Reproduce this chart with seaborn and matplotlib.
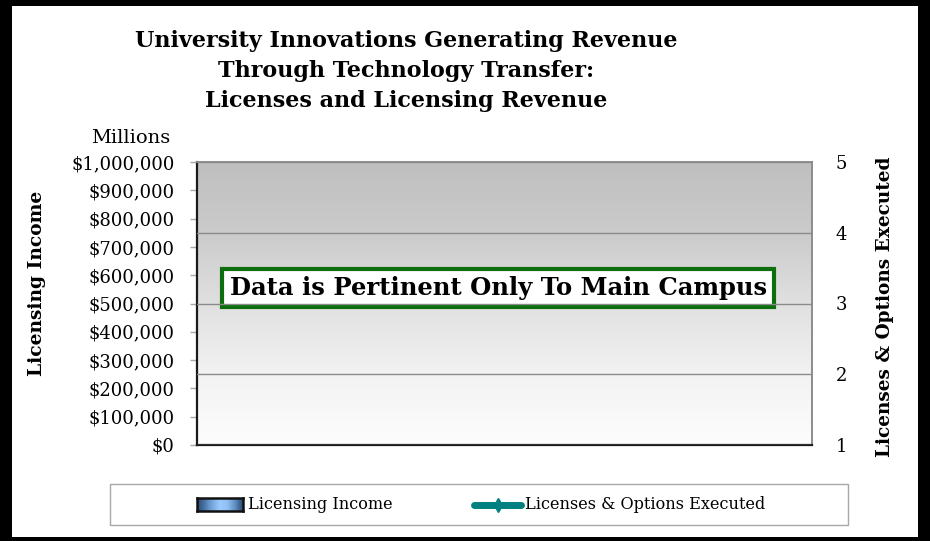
import numpy as np
import pandas as pd
import matplotlib
matplotlib.use("Agg")
import matplotlib.pyplot as plt
import seaborn as sns
from matplotlib.patches import Rectangle
from matplotlib.lines import Line2D
from matplotlib.colors import LinearSegmentedColormap

# ---- data (the reference chart contains no plotted values) ----
years = []
licensing_income = []
licenses_executed = []
left_ticks = [0, 100000, 200000, 300000, 400000, 500000, 600000, 700000, 800000, 900000, 1000000]
left_labels = ["$0", "$100,000", "$200,000", "$300,000", "$400,000", "$500,000",
               "$600,000", "$700,000", "$800,000", "$900,000", "$1,000,000"]
right_ticks = [1, 2, 3, 4, 5]
series_names = ["Licensing Income", "Licenses & Options Executed"]
title_text = ("University Innovations Generating Revenue\n"
              "Through Technology Transfer:\n"
              "Licenses and Licensing Revenue")
note_text = "Data is Pertinent Only To Main Campus"

sns.set_theme(style="white")
SERIF = ["DejaVu Serif"]
plt.rcParams["font.family"] = SERIF
plt.rcParams["text.color"] = "black"
plt.rcParams["ytick.color"] = "black"

W, H = 930, 541
fig = plt.figure(figsize=(W / 100, H / 100), dpi=100, facecolor="black")

def fx(px):
    return px / W

def fy(py):
    return 1 - py / H

# white inner panel inside thick black frame
fig.patches.append(Rectangle((fx(12), fy(537)), fx(918 - 12), (537 - 6) / H,
                             transform=fig.transFigure, facecolor="white",
                             edgecolor="none", zorder=-10))

pos = [fx(197), fy(445), fx(812 - 197), (445 - 162) / H]

# gradient background of the plot area
bg = fig.add_axes(pos, zorder=0.5)
grad = np.linspace(0, 1, 256).reshape(-1, 1)
cmap = LinearSegmentedColormap.from_list(
    "g", [(0.0, "#fdfdfd"), (0.25, "#f2f2f2"), (0.5, "#e0e0e0"),
          (0.75, "#cbcbcb"), (1.0, "#bfbfbf")])
bg.imshow(grad, aspect="auto", cmap=cmap, origin="lower", extent=[0, 1, 0, 1])
bg.set_axis_off()

ax = fig.add_axes(pos, zorder=1)
ax.set_facecolor("none")
df = pd.DataFrame({"year": pd.Series(years, dtype=str),
                   "income": pd.Series(licensing_income, dtype=float),
                   "count": pd.Series(licenses_executed, dtype=float)})
sns.barplot(data=df, x="year", y="income", ax=ax, color="#7fa8d8")
ax.set_xlim(0, 1)
ax.set_ylim(0, 1000000)
ax.set_yticks(left_ticks)
ax.set_yticklabels(left_labels, fontsize=13)
ax.set_xticks([])
ax.set_xlabel("")
ax.set_ylabel("")
ax.tick_params(axis="y", left=True, length=5, width=1, color="#a8a8a8", pad=11,
               labelcolor="black")
for name, s in ax.spines.items():
    if name in ("left", "bottom"):
        s.set_color("#1a1a1a")
        s.set_linewidth(1.6)
    else:
        s.set_color("#8c8c8c")
        s.set_linewidth(1.4)

ax2 = ax.twinx()
ax2.set_zorder(2)
sns.lineplot(data=df, x="year", y="count", ax=ax2, color="#008080")
ax2.set_ylim(1, 5)
ax2.set_yticks(right_ticks)
ax2.set_yticklabels([str(t) for t in right_ticks], fontsize=13)
ax2.tick_params(axis="y", right=False, length=0, pad=17, labelcolor="black")
ax2.set_ylabel("")
ax2.set_xlabel("")
ax2.grid(True, axis="y", color="#8a8a8a", linewidth=1)
for s in ax2.spines.values():
    s.set_visible(False)

# texts
fig.text(fx(406), fy(71), title_text, ha="center", va="center",
         fontsize=16, fontweight="bold", linespacing=1.48, color="black")
fig.text(fx(131), fy(138), "Millions", ha="center", va="center", fontsize=14,
         color="black")
fig.text(fx(37), fy(283), "Licensing Income", ha="center", va="center",
         rotation=90, fontsize=13.4, fontweight="bold", color="black")
fig.text(fx(885), fy(307), "Licenses & Options Executed", ha="center", va="center",
         rotation=90, fontsize=13.3, fontweight="bold", color="black")

ax.text(0.490, 0.555, note_text, transform=ax.transAxes, ha="center", va="center",
        fontsize=17.5, fontweight="bold", zorder=5, color="black",
        bbox=dict(boxstyle="square,pad=0.3", facecolor="white",
                  edgecolor="#0d6e0d", linewidth=3))

# legend: frame, gradient patch, line with marker, labels
fig.patches.append(Rectangle((fx(110), fy(525)), fx(738), 41 / H,
                             transform=fig.transFigure, facecolor="white",
                             edgecolor="#a8a8a8", linewidth=1, zorder=3))
pax = fig.add_axes([fx(197), fy(511), fx(46), 13 / H], zorder=4)
hvals = np.interp(np.linspace(0, 1, 64), np.linspace(0, 1, 7),
                  [0.1, 0.35, 0.7, 1.0, 0.9, 0.5, 0.1]).reshape(1, -1)
bcmap = LinearSegmentedColormap.from_list("b", ["#1e3a5f", "#5f8fc4", "#9ccaff"])
pax.imshow(hvals, aspect="auto", cmap=bcmap, vmin=0, vmax=1, extent=[0, 1, 0, 1])
pax.set_xticks([])
pax.set_yticks([])
for s in pax.spines.values():
    s.set_color("#111111")
    s.set_linewidth(1.8)

fig.lines.append(Line2D([fx(474), fx(521)], [fy(504.5), fy(504.5)],
                        transform=fig.transFigure, color="#008080", linewidth=5,
                        solid_capstyle="round", zorder=5))
fig.lines.append(Line2D([fx(497.5)], [fy(504.5)], transform=fig.transFigure,
                        marker="d", markersize=7, color="#008080", zorder=6))
fig.text(fx(248), fy(504.5), series_names[0], ha="left", va="center",
         fontsize=11.6, color="black", zorder=6)
fig.text(fx(525), fy(504.5), series_names[1], ha="left", va="center",
         fontsize=11.6, color="black", zorder=6)

fig.savefig("out.png", dpi=100, facecolor="black")
